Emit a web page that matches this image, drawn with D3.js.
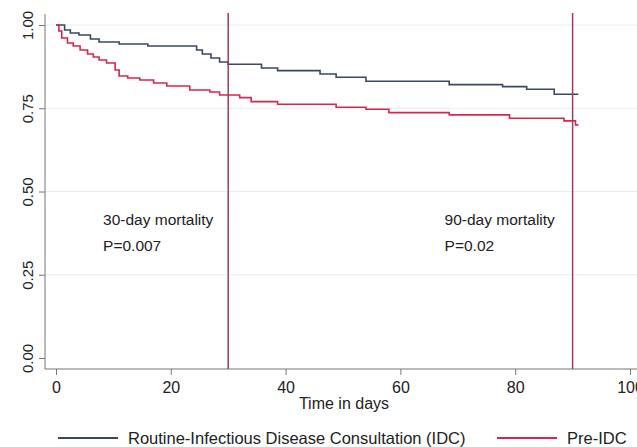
<!DOCTYPE html>
<html>
<head>
<meta charset="utf-8">
<script src="https://cdn.jsdelivr.net/npm/d3@7"></script>
<style>
  body { margin: 0; background: #fff; }
  svg { display: block; font-family: "Liberation Sans", Arial, sans-serif; }
</style>
</head>
<body>
<div id="chart"></div>
<script>
// Kaplan-Meier step points (day, survival)
const idcDays = [0, 1.5, 2.5, 4, 6, 7.5, 11, 16, 24.5, 25.5, 27, 28.5, 30, 35.8, 38.6, 46, 48.8, 54, 68.5, 77.8, 82, 86.8, 91];
const idcSurv = [1.000, 0.985, 0.976, 0.970, 0.958, 0.949, 0.943, 0.937, 0.925, 0.913, 0.901, 0.889, 0.882, 0.871, 0.863, 0.853, 0.843, 0.831, 0.821, 0.815, 0.807, 0.792, 0.792];

const preDays = [0, 0.5, 1, 2, 3, 4.2, 5.5, 6.5, 7.5, 8.8, 10.3, 11, 12.5, 14.6, 17, 19.3, 23.3, 26.8, 28.5, 32, 34, 38.6, 48.8, 54, 58, 68.5, 79, 88.5, 90.5, 91];
const preSurv = [1.000, 0.982, 0.961, 0.946, 0.937, 0.925, 0.913, 0.904, 0.895, 0.886, 0.865, 0.847, 0.841, 0.835, 0.826, 0.817, 0.805, 0.799, 0.790, 0.782, 0.770, 0.762, 0.753, 0.747, 0.737, 0.730, 0.720, 0.712, 0.700, 0.700];

const xTicks = [0, 20, 40, 60, 80, 100];
const yTicks = [0, 0.25, 0.5, 0.75, 1];
const cutoffDays = [30, 90];
const notes = [
  { day: 8.2, lines: ["30-day mortality", "P=0.007"] },
  { day: 67.7, lines: ["90-day mortality", "P=0.02"] }
];
const seriesNames = ["Routine-Infectious Disease Consultation (IDC)", "Pre-IDC"];

const width = 637, height = 447;
const colors = ["#3b4862", "#d8264f"];

const svg = d3.select("#chart").append("svg")
  .attr("width", width)
  .attr("height", height);

const x = d3.scaleLinear().domain([0, 100]).range([56, 630]);
const y = d3.scaleLinear().domain([0, 1]).range([358, 25]);

const axisLeftX = 45, axisBottomY = 369;

// grid lines
svg.append("g")
  .selectAll("line")
  .data(yTicks.filter(d => d > 0))
  .enter().append("line")
  .attr("x1", axisLeftX).attr("x2", width)
  .attr("y1", d => y(d)).attr("y2", d => y(d))
  .attr("stroke", "#ececec")
  .attr("stroke-width", 1);

// y axis
const yAxis = svg.append("g")
  .attr("transform", `translate(${axisLeftX},0)`)
  .call(d3.axisLeft(y).tickValues(yTicks).tickFormat(d3.format(".2f")).tickSize(6));
yAxis.select(".domain").remove();
yAxis.selectAll(".tick line").attr("stroke", "#777");
yAxis.selectAll(".tick text")
  .attr("x", null).attr("dy", null)
  .attr("transform", "translate(-12,0) rotate(-90)")
  .attr("text-anchor", "middle")
  .attr("font-size", 15)
  .attr("fill", "#222");

// x axis
const xAxis = svg.append("g")
  .attr("transform", `translate(0,${axisBottomY})`)
  .call(d3.axisBottom(x).tickValues(xTicks).tickSize(6));
xAxis.select(".domain").remove();
xAxis.selectAll(".tick line").attr("stroke", "#777");
xAxis.selectAll(".tick text")
  .attr("y", 24).attr("dy", null)
  .attr("font-size", 16)
  .attr("fill", "#222");

// axis lines
svg.append("line")
  .attr("x1", axisLeftX).attr("x2", axisLeftX)
  .attr("y1", 14).attr("y2", axisBottomY)
  .attr("stroke", "#777");
svg.append("line")
  .attr("x1", axisLeftX).attr("x2", width)
  .attr("y1", axisBottomY).attr("y2", axisBottomY)
  .attr("stroke", "#777");

// survival curves
const line = d3.line()
  .x(d => x(d[0]))
  .y(d => y(d[1]))
  .curve(d3.curveStepAfter);

const series = [
  d3.zip(idcDays, idcSurv),
  d3.zip(preDays, preSurv)
];

svg.selectAll(".km")
  .data(series)
  .enter().append("path")
  .attr("class", "km")
  .attr("d", line)
  .attr("fill", "none")
  .attr("stroke", (d, i) => colors[i])
  .attr("stroke-width", 1.6);

// cutoff lines
svg.selectAll(".cut")
  .data(cutoffDays)
  .enter().append("line")
  .attr("class", "cut")
  .attr("x1", d => x(d)).attr("x2", d => x(d))
  .attr("y1", 13).attr("y2", axisBottomY)
  .attr("stroke", "#9a3f58")
  .attr("stroke-width", 1.5);

// annotations
notes.forEach(n => {
  n.lines.forEach((t, i) => {
    svg.append("text")
      .attr("x", x(n.day))
      .attr("y", 225 + i * 26)
      .attr("font-size", 15.5)
      .attr("fill", "#222")
      .text(t);
  });
});

// axis title
svg.append("text")
  .attr("x", 344)
  .attr("y", 409)
  .attr("text-anchor", "middle")
  .attr("font-size", 16)
  .attr("fill", "#222")
  .text("Time in days");

// legend
const legendItems = [
  { x1: 58, name: seriesNames[0], color: colors[0] },
  { x1: 497, name: seriesNames[1], color: colors[1] }
];
const legend = svg.append("g");
legendItems.forEach(it => {
  legend.append("line")
    .attr("x1", it.x1).attr("x2", it.x1 + 60)
    .attr("y1", 438).attr("y2", 438)
    .attr("stroke", it.color)
    .attr("stroke-width", 2);
  legend.append("text")
    .attr("x", it.x1 + 70)
    .attr("y", 444)
    .attr("font-size", 16.5)
    .attr("fill", "#222")
    .text(it.name);
});
</script>
</body>
</html>
